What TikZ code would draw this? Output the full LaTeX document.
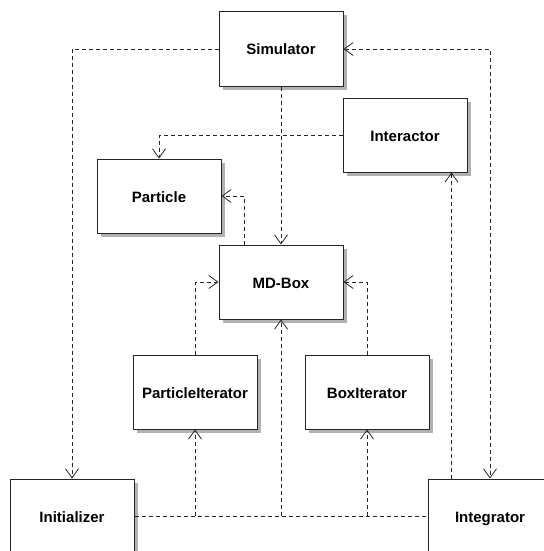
\documentclass[tikz,border=0pt]{standalone}
\usepackage{fontspec}
\setmainfont{Liberation Sans}
\usepackage{tikz}
\usetikzlibrary{arrows.meta,positioning,shadows}

\begin{document}
\begin{tikzpicture}[x=1pt,y=-1pt,>={Straight Barb[length=9pt,width=13pt,line width=0.8pt]},
  cls/.style={draw=black!85,line width=1pt,fill=white,minimum width=124pt,minimum height=74pt,
    inner sep=0pt,text height=12pt,text depth=0pt,font=\fontsize{15}{18}\selectfont\bfseries,
    drop shadow={shadow xshift=3.5pt,shadow yshift=-3.5pt,fill=black!30,opacity=1}},
  dep/.style={draw=black!85,line width=0.9pt,dash pattern=on 4pt off 3pt}]
  \useasboundingbox (0,0) rectangle (543,551);
  \node[cls] (Sim) at (281,49) {Simulator};
  \node[cls] (Int) at (405,135) {Interactor};
  \node[cls] (Par) at (159,196) {Particle};
  \node[cls] (Box) at (281,282) {MD-Box};
  \node[cls] (PIt) at (195,392) {ParticleIterator};
  \node[cls] (BIt) at (367,392) {BoxIterator};
  \node[cls] (Ini) at (72,516) {Initializer};
  \node[cls] (Itg) at (490,516) {Integrator};
  \coordinate (ItgUp) at ([xshift=24pt]Itg.north west);
  \draw[dep,->] (Sim.west) -| (Ini.north);
  \draw[dep,<->] (Sim.east) -| (Itg.north);
  \draw[dep,->] (Sim) -- (Box);
  \draw[dep,->] (Int.west) -| (Par.north);
  \draw[dep,->] ([xshift=-37pt]Box.north) |- (Par.east);
  \draw[dep,->] (PIt.north) |- (Box.west);
  \draw[dep,->] (BIt.north) |- (Box.east);
  \draw[dep] (Ini.east) -- (Itg.west);
  \draw[dep,->] (Ini.east -| PIt.south) -- (PIt.south);
  \draw[dep,->] (Ini.east -| Box.south) -- (Box.south);
  \draw[dep,->] (Ini.east -| BIt.south) -- (BIt.south);
  \draw[dep,->] (ItgUp) -- (ItgUp |- Int.south);
\end{tikzpicture}
\end{document}
